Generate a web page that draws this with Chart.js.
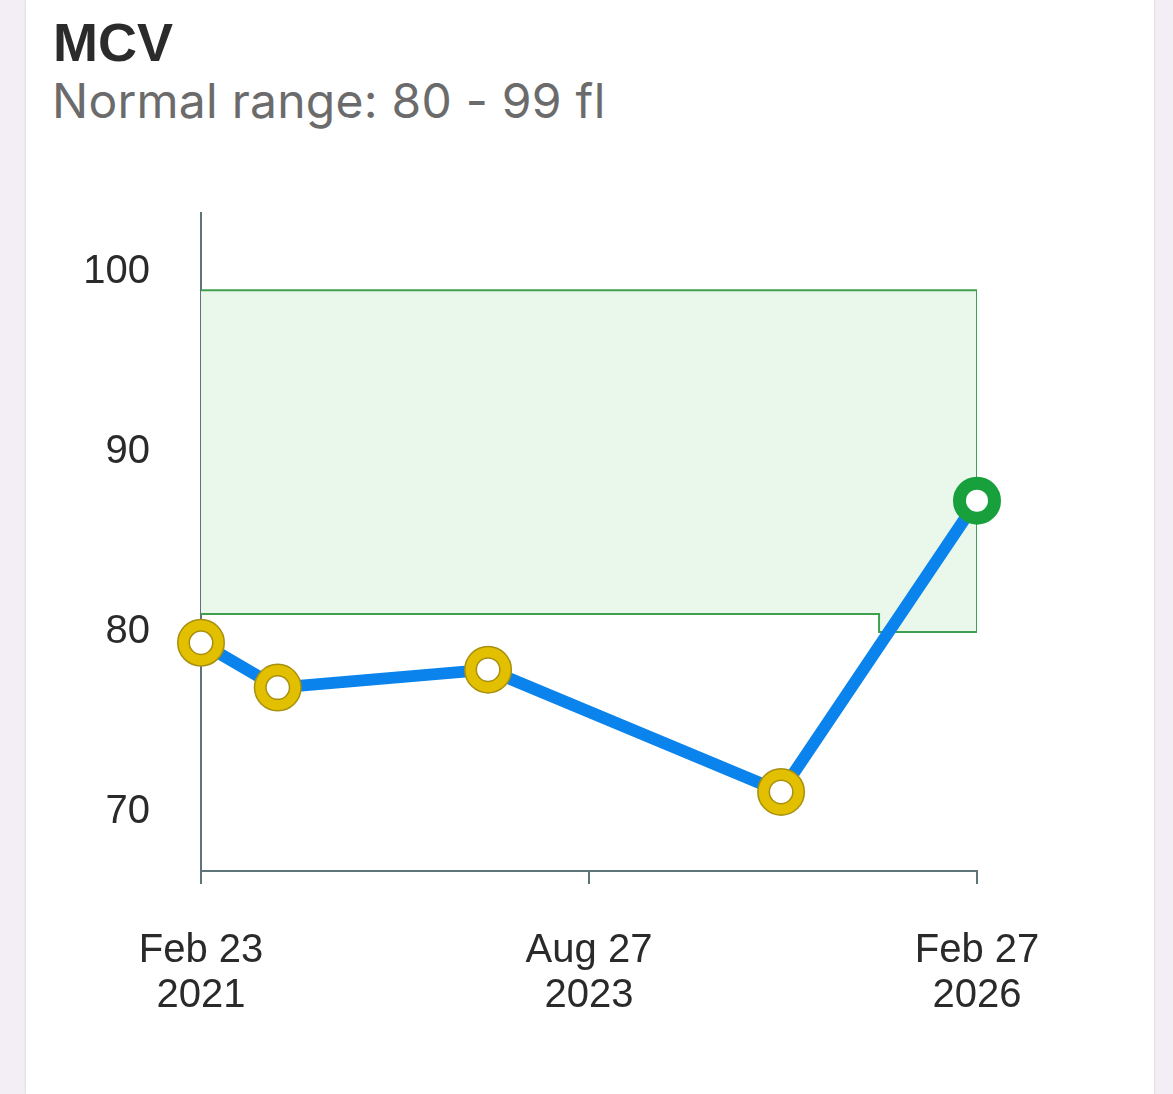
<!DOCTYPE html>
<html>
<head>
<meta charset="utf-8">
<script src="https://cdn.jsdelivr.net/npm/chart.js@4"></script>
<style>
  html, body { margin: 0; padding: 0; }
  body { width: 1173px; height: 1094px; background: #f3eef6; overflow: hidden; position: relative; font-family: "Liberation Sans", Arial, sans-serif; }
  .card { position: absolute; left: 26px; top: 0; width: 1128px; height: 1094px; background: #fff; box-shadow: 0 0 2px rgba(0,0,0,0.18); }
  .title { position: absolute; left: 27px; top: 11px; font-size: 54px; font-weight: bold; color: #2b2b2b; }
  .subtitle { position: absolute; left: 26px; top: 71px; font-family: Inter, "Liberation Sans", sans-serif; font-size: 48px; letter-spacing: 0.25px; color: #6b6b6b; }
  #chart { position: absolute; left: 0; top: 138px; }
</style>
</head>
<body>
<div class="card">
  <div class="title">MCV</div>
  <div class="subtitle">Normal range: 80 - 99 fl</div>
  <canvas id="chart" width="1128" height="956" style="width:1128px;height:956px"></canvas>
</div>
<script>
// results
const resultDates = ["2021-02-23", "2021-08-23", "2023-01-01", "2024-11-22", "2026-02-27"]
const mcvValues = [79.4, 76.9, 77.9, 71.1, 87.3]

// normal range (lower limit changed in 2025)
const rangeFrom = ["2021-02-23", "2025-07-11"]
const rangeLow = [81, 80]
const rangeHigh = [99, 99]
const rangeEnd = "2026-02-27"

// axes
const xTickDates = ["2021-02-23", "2023-08-27", "2026-02-27"]
const xTickLabels = [["Feb 23", "2021"], ["Aug 27", "2023"], ["Feb 27", "2026"]]
const yTicks = [70, 80, 90, 100]
const yMin = 66.7
const yMax = 103.3

const DAY = 86400000
const t0 = Date.parse(xTickDates[0])
const day = (s) => (Date.parse(s) - t0) / DAY

const axisColor = "#5e7479"
const bandLine = "#3fa04f"

document.addEventListener("DOMContentLoaded", () => {
  const points = resultDates.map((d, i) => ({ x: day(d), y: mcvValues[i] }))

  // band edges
  const lowPts = []
  const highPts = []
  rangeFrom.forEach((d, i) => {
    const end = i + 1 < rangeFrom.length ? rangeFrom[i + 1] : rangeEnd
    lowPts.push({ x: day(d), y: rangeLow[i] }, { x: day(end), y: rangeLow[i] })
    highPts.push({ x: day(d), y: rangeHigh[i] }, { x: day(end), y: rangeHigh[i] })
  })
  const lastLow = rangeLow[rangeLow.length - 1]
  const lastHigh = rangeHigh[rangeHigh.length - 1]
  const edgePts = [{ x: day(rangeEnd), y: lastHigh }, { x: day(rangeEnd), y: lastLow }]

  const inRange = (v, d) => {
    let k = 0
    rangeFrom.forEach((f, i) => { if (day(d) >= day(f)) k = i })
    return v >= rangeLow[k] && v <= rangeHigh[k]
  }
  const ringColors = mcvValues.map((v, i) => inRange(v, resultDates[i]) ? "#17a03b" : "#e2c000")
  const outlineColors = mcvValues.map((v, i) => inRange(v, resultDates[i]) ? "#17a03b" : "#a8900e")

  new Chart(document.getElementById("chart"), {
    type: "scatter",
    data: {
      datasets: [
        {
          data: highPts, showLine: true, pointRadius: 0,
          borderColor: bandLine, borderWidth: 2, fill: false, order: 10,
        },
        {
          data: lowPts, showLine: true, pointRadius: 0,
          borderColor: bandLine, borderWidth: 2,
          fill: "-1", backgroundColor: "#e9f8ea", order: 11,
        },
        {
          data: edgePts, showLine: true, pointRadius: 0,
          borderColor: bandLine, borderWidth: 2, order: 9,
        },
        {
          data: points, showLine: true, pointRadius: 0,
          borderColor: "#0a84ec", borderWidth: 12, borderJoinStyle: "round", order: 3,
        },
        {
          data: points, showLine: false, clip: false,
          pointRadius: 17.5, pointBorderWidth: 13,
          pointBorderColor: outlineColors, pointBackgroundColor: "#ffffff", order: 2,
        },
        {
          data: points, showLine: false, clip: false,
          pointRadius: 17.5, pointBorderWidth: 10,
          pointBorderColor: ringColors, pointBackgroundColor: "rgba(0,0,0,0)", order: 1,
        },
      ],
    },
    options: {
      responsive: false,
      animation: false,
      devicePixelRatio: 1,
      layout: { padding: { top: 50, right: 177, left: 0, bottom: 0 } },
      plugins: { legend: { display: false }, tooltip: { enabled: false } },
      elements: { line: { tension: 0 } },
      scales: {
        x: {
          type: "linear",
          min: day(xTickDates[0]),
          max: day(xTickDates[xTickDates.length - 1]),
          afterBuildTicks: (s) => { s.ticks = xTickDates.map((d) => ({ value: day(d) })) },
          afterFit: (s) => { s.height = 223 },
          border: { display: true, color: axisColor, width: 2 },
          grid: { drawOnChartArea: false, drawTicks: true, tickLength: 13, color: axisColor, lineWidth: 2 },
          ticks: {
            autoSkip: false,
            maxRotation: 0,
            padding: 45,
            color: "#2a2a2a",
            font: { family: "'Liberation Sans', Arial, sans-serif", size: 40, lineHeight: 1.12 },
            callback: (v) => {
              const i = xTickDates.findIndex((d) => day(d) === v)
              return i >= 0 ? xTickLabels[i] : ""
            },
          },
        },
        y: {
          min: yMin,
          max: yMax,
          afterBuildTicks: (s) => { s.ticks = yTicks.map((v) => ({ value: v })) },
          afterFit: (s) => { s.width = 175 },
          border: { display: true, color: axisColor, width: 2 },
          grid: { drawOnChartArea: false, drawTicks: false },
          ticks: {
            padding: 51,
            color: "#2a2a2a",
            font: { family: "'Liberation Sans', Arial, sans-serif", size: 40 },
          },
        },
      },
    },
  })
})
</script>
</body>
</html>
